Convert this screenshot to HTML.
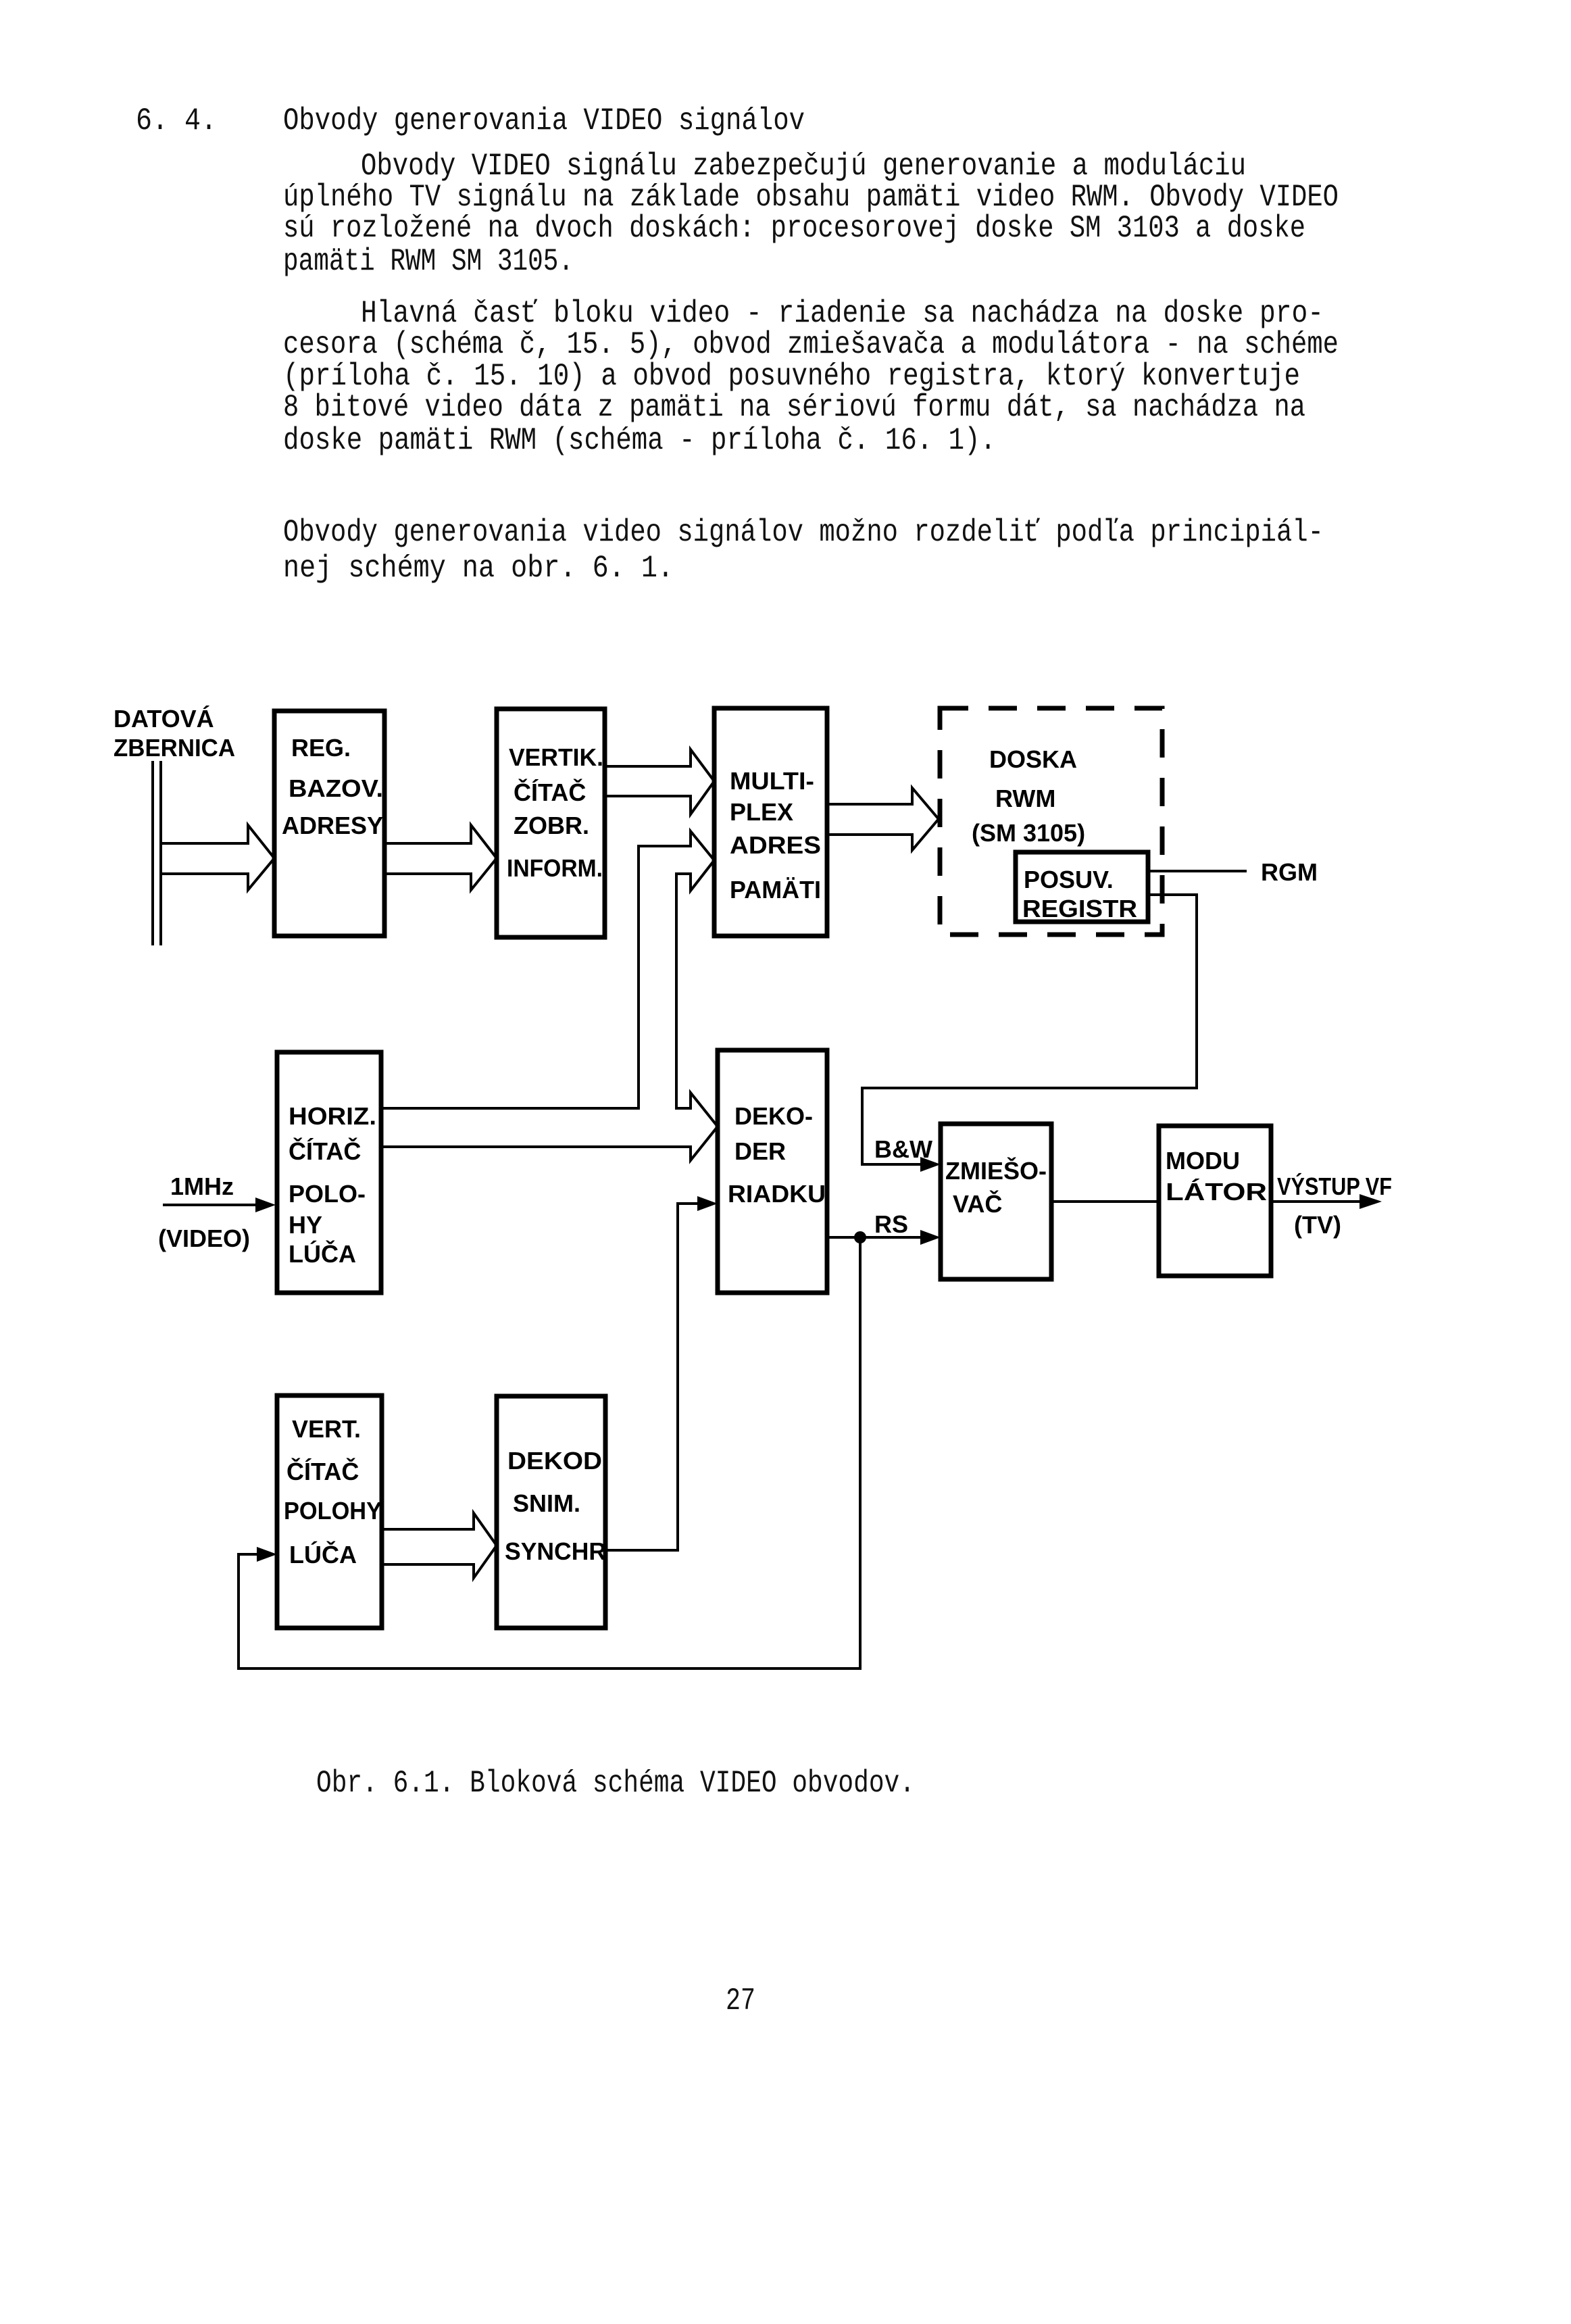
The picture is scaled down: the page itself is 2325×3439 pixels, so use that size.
<!DOCTYPE html>
<html><head><meta charset="utf-8"><style>
html,body{margin:0;padding:0;background:#fff}
svg{display:block}
.t{font-family:"Liberation Mono",monospace;font-size:46px;fill:#111}
.l{font-family:"Liberation Sans",sans-serif;font-size:36px;font-weight:bold;fill:#000}
</style></head><body>
<svg width="2325" height="3439" viewBox="0 0 2325 3439" xmlns="http://www.w3.org/2000/svg">
<rect width="2325" height="3439" fill="#fff"/>
<g class="t">
<text x="201" y="191" textLength="120" lengthAdjust="spacingAndGlyphs">6. 4.</text>
<text x="419" y="191" textLength="772" lengthAdjust="spacingAndGlyphs">Obvody generovania VIDEO signálov</text>
<text x="534" y="258" textLength="1310" lengthAdjust="spacingAndGlyphs">Obvody VIDEO signálu zabezpečujú generovanie a moduláciu</text>
<text x="419" y="304" textLength="1562" lengthAdjust="spacingAndGlyphs">úplného TV signálu na základe obsahu pamäti video RWM. Obvody VIDEO</text>
<text x="419" y="350" textLength="1513" lengthAdjust="spacingAndGlyphs">sú rozložené na dvoch doskách: procesorovej doske SM 3103 a doske</text>
<text x="419" y="399" textLength="430" lengthAdjust="spacingAndGlyphs">pamäti RWM SM 3105.</text>
<text x="534" y="476" textLength="1425" lengthAdjust="spacingAndGlyphs">Hlavná časť bloku video - riadenie sa nachádza na  doske pro-</text>
<text x="419" y="522" textLength="1562" lengthAdjust="spacingAndGlyphs">cesora (schéma č, 15. 5), obvod zmiešavača a modulátora - na schéme</text>
<text x="419" y="569" textLength="1505" lengthAdjust="spacingAndGlyphs">(príloha č. 15. 10) a obvod posuvného registra, ktorý konvertuje</text>
<text x="419" y="615" textLength="1513" lengthAdjust="spacingAndGlyphs">8 bitové video dáta z pamäti na sériovú formu dát, sa nachádza na</text>
<text x="419" y="664" textLength="1055" lengthAdjust="spacingAndGlyphs">doske pamäti RWM (schéma - príloha č. 16. 1).</text>
<text x="419" y="800" textLength="1540" lengthAdjust="spacingAndGlyphs">Obvody generovania video signálov možno rozdeliť podľa principiál-</text>
<text x="419" y="853" textLength="578" lengthAdjust="spacingAndGlyphs">nej schémy na  obr. 6. 1.</text>
<text x="468" y="2651" textLength="886" lengthAdjust="spacingAndGlyphs">Obr. 6.1. Bloková schéma VIDEO obvodov.</text>
<text x="1074" y="2973" textLength="44" lengthAdjust="spacingAndGlyphs">27</text>
</g>

<g fill="none" stroke="#000" stroke-width="7" stroke-linejoin="miter">
<rect x="406" y="1052" width="163" height="333"/>
<rect x="735" y="1049" width="160" height="338"/>
<rect x="1057" y="1048" width="167" height="337"/>
<rect x="410" y="1557" width="154" height="356"/>
<rect x="1062" y="1554" width="162" height="359"/>
<rect x="410" y="2065" width="155" height="344"/>
<rect x="735" y="2066" width="161" height="343"/>
<rect x="1392" y="1663" width="164" height="230"/>
<rect x="1715" y="1666" width="166" height="222"/>
<rect x="1503" y="1261" width="196" height="103"/>
<rect x="1391" y="1048" width="329" height="335" stroke-dasharray="42 30"/>
</g>

<g fill="none" stroke="#000" stroke-width="4">
<line x1="226" y1="1126" x2="226" y2="1399"/>
<line x1="238" y1="1126" x2="238" y2="1399"/>
<polyline points="238,1248 367,1248 367,1221 406,1270 367,1317 367,1293 238,1293"/>
<polyline points="569,1248 697,1248 697,1221 735,1270 697,1317 697,1293 569,1293"/>
<polyline points="895,1134 1022,1134 1022,1109 1057,1156 1022,1205 1022,1178 895,1178"/>
<polyline points="564,1640 945,1640 945,1252 1022,1252 1022,1230 1057,1273 1022,1318 1022,1293 1001,1293 1001,1640 1022,1640 1022,1617 1062,1667 1022,1717 1022,1697 564,1697"/>
<polyline points="1224,1190 1350,1190 1350,1166 1389,1212 1350,1258 1350,1235 1224,1235"/>
<polyline points="565,2263 701,2263 701,2239 735,2287 701,2335 701,2315 565,2315"/>
<line x1="1699" y1="1289" x2="1845" y2="1289"/>
<polyline points="1699,1324 1771,1324 1771,1610 1276,1610 1276,1723 1370,1723"/>
<line x1="1556" y1="1778" x2="1715" y2="1778"/>
<line x1="1881" y1="1778" x2="2020" y2="1778"/>
<line x1="1224" y1="1831" x2="1370" y2="1831"/>
<polyline points="1273,1831 1273,2469 353,2469 353,2300 388,2300"/>
<polyline points="896,2294 1003,2294 1003,1781 1040,1781"/>
<line x1="241" y1="1783" x2="388" y2="1783"/>
</g>
<g fill="#000">
<polygon points="1362,1712 1392,1723 1362,1734"/>
<polygon points="1362,1820 1392,1831 1362,1842"/>
<polygon points="2012,1767 2045,1778 2012,1789"/>
<polygon points="380,2289 410,2300 380,2311"/>
<polygon points="1032,1770 1062,1781 1032,1792"/>
<polygon points="378,1772 408,1783 378,1794"/>
<circle cx="1273" cy="1831" r="9"/>
</g>

<g class="l">
<text x="168" y="1076">DATOVÁ</text>
<text x="168" y="1119" textLength="180" lengthAdjust="spacingAndGlyphs">ZBERNICA</text>
<text x="431" y="1119">REG.</text>
<text x="427" y="1179" textLength="140" lengthAdjust="spacingAndGlyphs">BAZOV.</text>
<text x="417" y="1234" textLength="150" lengthAdjust="spacingAndGlyphs">ADRESY</text>
<text x="753" y="1133" textLength="140" lengthAdjust="spacingAndGlyphs">VERTIK.</text>
<text x="760" y="1185">ČÍTAČ</text>
<text x="760" y="1234">ZOBR.</text>
<text x="750" y="1297" textLength="142" lengthAdjust="spacingAndGlyphs">INFORM.</text>
<text x="1080" y="1168" textLength="125" lengthAdjust="spacingAndGlyphs">MULTI-</text>
<text x="1080" y="1214">PLEX</text>
<text x="1080" y="1263" textLength="135" lengthAdjust="spacingAndGlyphs">ADRES</text>
<text x="1080" y="1329" textLength="135" lengthAdjust="spacingAndGlyphs">PAMÄTI</text>
<text x="427" y="1664" textLength="130" lengthAdjust="spacingAndGlyphs">HORIZ.</text>
<text x="427" y="1716">ČÍTAČ</text>
<text x="427" y="1779">POLO-</text>
<text x="427" y="1825">HY</text>
<text x="427" y="1868">LÚČA</text>
<text x="252" y="1768">1MHz</text>
<text x="234" y="1845">(VIDEO)</text>
<text x="1087" y="1664">DEKO-</text>
<text x="1087" y="1716">DER</text>
<text x="1077" y="1779" textLength="145" lengthAdjust="spacingAndGlyphs">RIADKU</text>
<text x="432" y="2127">VERT.</text>
<text x="424" y="2190">ČÍTAČ</text>
<text x="420" y="2248" textLength="145" lengthAdjust="spacingAndGlyphs">POLOHY</text>
<text x="428" y="2313">LÚČA</text>
<text x="751" y="2174" textLength="140" lengthAdjust="spacingAndGlyphs">DEKOD</text>
<text x="759" y="2237">SNIM.</text>
<text x="747" y="2308" textLength="150" lengthAdjust="spacingAndGlyphs">SYNCHR</text>
<text x="1464" y="1136">DOSKA</text>
<text x="1473" y="1194">RWM</text>
<text x="1438" y="1245">(SM 3105)</text>
<text x="1515" y="1314">POSUV.</text>
<text x="1513" y="1357" textLength="170" lengthAdjust="spacingAndGlyphs">REGISTR</text>
<text x="1866" y="1303">RGM</text>
<text x="1294" y="1713">B&amp;W</text>
<text x="1294" y="1824">RS</text>
<text x="1399" y="1745" textLength="150" lengthAdjust="spacingAndGlyphs">ZMIEŠO-</text>
<text x="1410" y="1794">VAČ</text>
<text x="1725" y="1730">MODU</text>
<text x="1725" y="1776" textLength="150" lengthAdjust="spacingAndGlyphs">LÁTOR</text>
<text x="1890" y="1768" textLength="170" lengthAdjust="spacingAndGlyphs">VÝSTUP VF</text>
<text x="1915" y="1825">(TV)</text>
</g>
</svg>
</body></html>
